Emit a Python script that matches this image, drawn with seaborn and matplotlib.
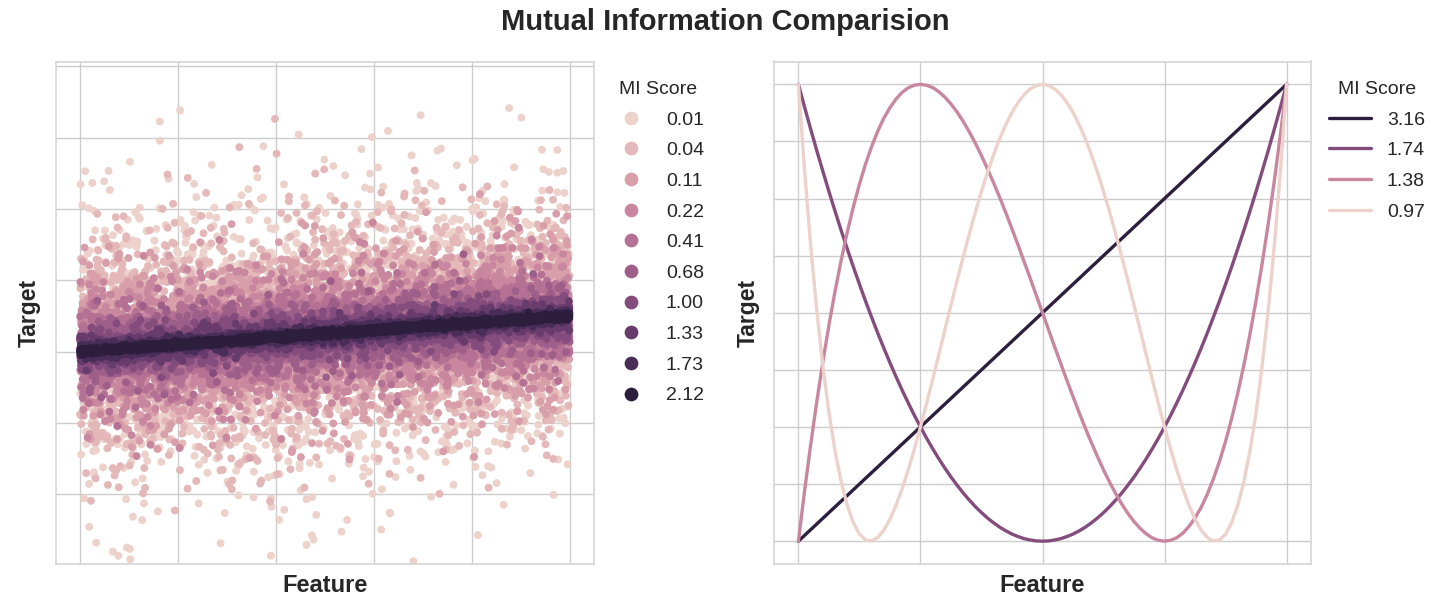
import numpy as np
import pandas as pd
import matplotlib
matplotlib.use("Agg")
import matplotlib.pyplot as plt
import seaborn as sns

sns.set_theme(style="whitegrid")
plt.rcParams["font.family"] = ["Liberation Sans", "DejaVu Sans"]

# ---- Left panel: linear relationship y = slope * x + noise, ten noise levels ----
mi_scores_left = ["0.01", "0.04", "0.11", "0.22", "0.41", "0.68", "1.00", "1.33", "1.73", "2.12"]
noise_sd = [1.0, 0.8, 0.58, 0.42, 0.3, 0.2, 0.13, 0.08, 0.045, 0.02]
slope = 0.5
n_per_level = 2200

# ---- Right panel: four deterministic curves on [-1, 1] ----
mi_scores_right = ["3.16", "1.74", "1.38", "0.97"]
curve_x = [-1.0, -0.975, -0.95, -0.925, -0.9, -0.875, -0.85, -0.825, -0.8, -0.775,
           -0.75, -0.725, -0.7, -0.675, -0.65, -0.625, -0.6, -0.575, -0.55, -0.525,
           -0.5, -0.475, -0.45, -0.425, -0.4, -0.375, -0.35, -0.325, -0.3, -0.275,
           -0.25, -0.225, -0.2, -0.175, -0.15, -0.125, -0.1, -0.075, -0.05, -0.025,
           0.0, 0.025, 0.05, 0.075, 0.1, 0.125, 0.15, 0.175, 0.2, 0.225,
           0.25, 0.275, 0.3, 0.325, 0.35, 0.375, 0.4, 0.425, 0.45, 0.475,
           0.5, 0.525, 0.55, 0.575, 0.6, 0.625, 0.65, 0.675, 0.7, 0.725,
           0.75, 0.775, 0.8, 0.825, 0.85, 0.875, 0.9, 0.925, 0.95, 0.975, 1.0]
curve_316 = [-1.0, -0.975, -0.95, -0.925, -0.9, -0.875, -0.85, -0.825, -0.8, -0.775,
             -0.75, -0.725, -0.7, -0.675, -0.65, -0.625, -0.6, -0.575, -0.55, -0.525,
             -0.5, -0.475, -0.45, -0.425, -0.4, -0.375, -0.35, -0.325, -0.3, -0.275,
             -0.25, -0.225, -0.2, -0.175, -0.15, -0.125, -0.1, -0.075, -0.05, -0.025,
             0.0, 0.025, 0.05, 0.075, 0.1, 0.125, 0.15, 0.175, 0.2, 0.225,
             0.25, 0.275, 0.3, 0.325, 0.35, 0.375, 0.4, 0.425, 0.45, 0.475,
             0.5, 0.525, 0.55, 0.575, 0.6, 0.625, 0.65, 0.675, 0.7, 0.725,
             0.75, 0.775, 0.8, 0.825, 0.85, 0.875, 0.9, 0.925, 0.95, 0.975, 1.0]
curve_174 = [1.0, 0.901, 0.805, 0.711, 0.62, 0.531, 0.445, 0.361, 0.28, 0.201,
             0.125, 0.051, -0.02, -0.089, -0.155, -0.219, -0.28, -0.339, -0.395, -0.449,
             -0.5, -0.549, -0.595, -0.639, -0.68, -0.719, -0.755, -0.789, -0.82, -0.849,
             -0.875, -0.899, -0.92, -0.939, -0.955, -0.969, -0.98, -0.989, -0.995, -0.999,
             -1.0, -0.999, -0.995, -0.989, -0.98, -0.969, -0.955, -0.939, -0.92, -0.899,
             -0.875, -0.849, -0.82, -0.789, -0.755, -0.719, -0.68, -0.639, -0.595, -0.549,
             -0.5, -0.449, -0.395, -0.339, -0.28, -0.219, -0.155, -0.089, -0.02, 0.051,
             0.125, 0.201, 0.28, 0.361, 0.445, 0.531, 0.62, 0.711, 0.805, 0.901, 1.0]
curve_138 = [-1.0, -0.782, -0.58, -0.391, -0.216, -0.055, 0.094, 0.229, 0.352, 0.463,
             0.563, 0.651, 0.728, 0.795, 0.852, 0.898, 0.936, 0.965, 0.985, 0.996,
             1.0, 0.996, 0.986, 0.968, 0.944, 0.914, 0.879, 0.838, 0.792, 0.742,
             0.688, 0.629, 0.568, 0.504, 0.437, 0.367, 0.296, 0.223, 0.15, 0.075,
             0.0, -0.075, -0.15, -0.223, -0.296, -0.367, -0.437, -0.504, -0.568, -0.629,
             -0.688, -0.742, -0.792, -0.838, -0.879, -0.914, -0.944, -0.968, -0.986, -0.996,
             -1.0, -0.996, -0.985, -0.965, -0.936, -0.898, -0.852, -0.795, -0.728, -0.651,
             -0.563, -0.463, -0.352, -0.229, -0.094, 0.055, 0.216, 0.391, 0.58, 0.782, 1.0]
curve_097 = [1.0, 0.625, 0.296, 0.012, -0.231, -0.436, -0.604, -0.739, -0.843, -0.919,
             -0.969, -0.995, -0.999, -0.984, -0.952, -0.904, -0.843, -0.77, -0.688, -0.597,
             -0.5, -0.398, -0.292, -0.184, -0.075, 0.033, 0.14, 0.244, 0.345, 0.441,
             0.531, 0.616, 0.693, 0.763, 0.824, 0.877, 0.921, 0.955, 0.98, 0.995,
             1.0, 0.995, 0.98, 0.955, 0.921, 0.877, 0.824, 0.763, 0.693, 0.616,
             0.531, 0.441, 0.345, 0.244, 0.14, 0.033, -0.075, -0.184, -0.292, -0.398,
             -0.5, -0.597, -0.688, -0.77, -0.843, -0.904, -0.952, -0.984, -0.999, -0.995,
             -0.969, -0.919, -0.843, -0.739, -0.604, -0.436, -0.231, 0.012, 0.296, 0.625, 1.0]

# Build the scatter table (noisiest level first so the tight band sits on top)
rng = np.random.default_rng(11)
frames = []
for label, sd in zip(mi_scores_left, noise_sd):
    fx = rng.uniform(0.0, 1.0, n_per_level)
    fy = slope * fx + rng.normal(0.0, sd, n_per_level)
    frames.append(pd.DataFrame({"Feature": fx, "Target": fy, "MI Score": label}))
scatter_df = pd.concat(frames, ignore_index=True)

curves = [curve_316, curve_174, curve_138, curve_097]
line_df = pd.concat(
    [pd.DataFrame({"Feature": curve_x, "Target": cy, "MI Score": lab})
     for lab, cy in zip(mi_scores_right, curves)],
    ignore_index=True,
)

W, H = 1430, 597
fig = plt.figure(figsize=(W / 100, H / 100), dpi=100)
ax1 = fig.add_axes([55.5 / W, (H - 564) / H, (594 - 55.5) / W, (564 - 61.5) / H])
ax2 = fig.add_axes([774 / W, (H - 564) / H, (1311 - 774) / W, (564 - 61.5) / H])

sns.scatterplot(data=scatter_df, x="Feature", y="Target", hue="MI Score",
                hue_order=mi_scores_left, palette=sns.cubehelix_palette(10),
                s=32, linewidth=0, ax=ax1)
sns.lineplot(data=line_df, x="Feature", y="Target", hue="MI Score",
             hue_order=mi_scores_right, palette=sns.cubehelix_palette(4, reverse=True),
             estimator=None, sort=False, linewidth=2.4, ax=ax2)

ax1.set_xlim(-0.05, 1.05)
ax1.set_ylim(-2.98, 4.07)
ax1.set_xticks([0.0, 0.2, 0.4, 0.6, 0.8, 1.0])
ax1.set_yticks([-2, -1, 0, 1, 2, 3, 4])
ax2.set_xticks([-1.0, -0.5, 0.0, 0.5, 1.0])
ax2.set_yticks([-1.0, -0.75, -0.5, -0.25, 0.0, 0.25, 0.5, 0.75, 1.0])

for ax in (ax1, ax2):
    ax.set_xticklabels([])
    ax.set_yticklabels([])
    ax.set_xlabel("Feature", fontsize=17, fontweight="bold", color="#262626", labelpad=-2.5)
    ax.set_ylabel("Target", fontsize=16.5, fontweight="bold", color="#262626", labelpad=1)
    for sp in ax.spines.values():
        sp.set_color("#d5d5d5")
        sp.set_linewidth(1.2)

sns.move_legend(ax1, "upper left", bbox_to_anchor=(1.0, 0.996), frameon=False,
                title="MI Score", fontsize=14, title_fontsize=14, markerscale=1.75,
                labelspacing=0.67)
sns.move_legend(ax2, "upper left", bbox_to_anchor=(1.0, 0.996), frameon=False,
                title="MI Score", fontsize=14, title_fontsize=14, labelspacing=0.67,
                handlelength=2.2)

fig.text(725 / W, 1 - 22 / H, "Mutual Information Comparision", ha="center",
         va="center", fontsize=21, fontweight="bold", color="#262626")

fig.savefig("out.png", dpi=100)
